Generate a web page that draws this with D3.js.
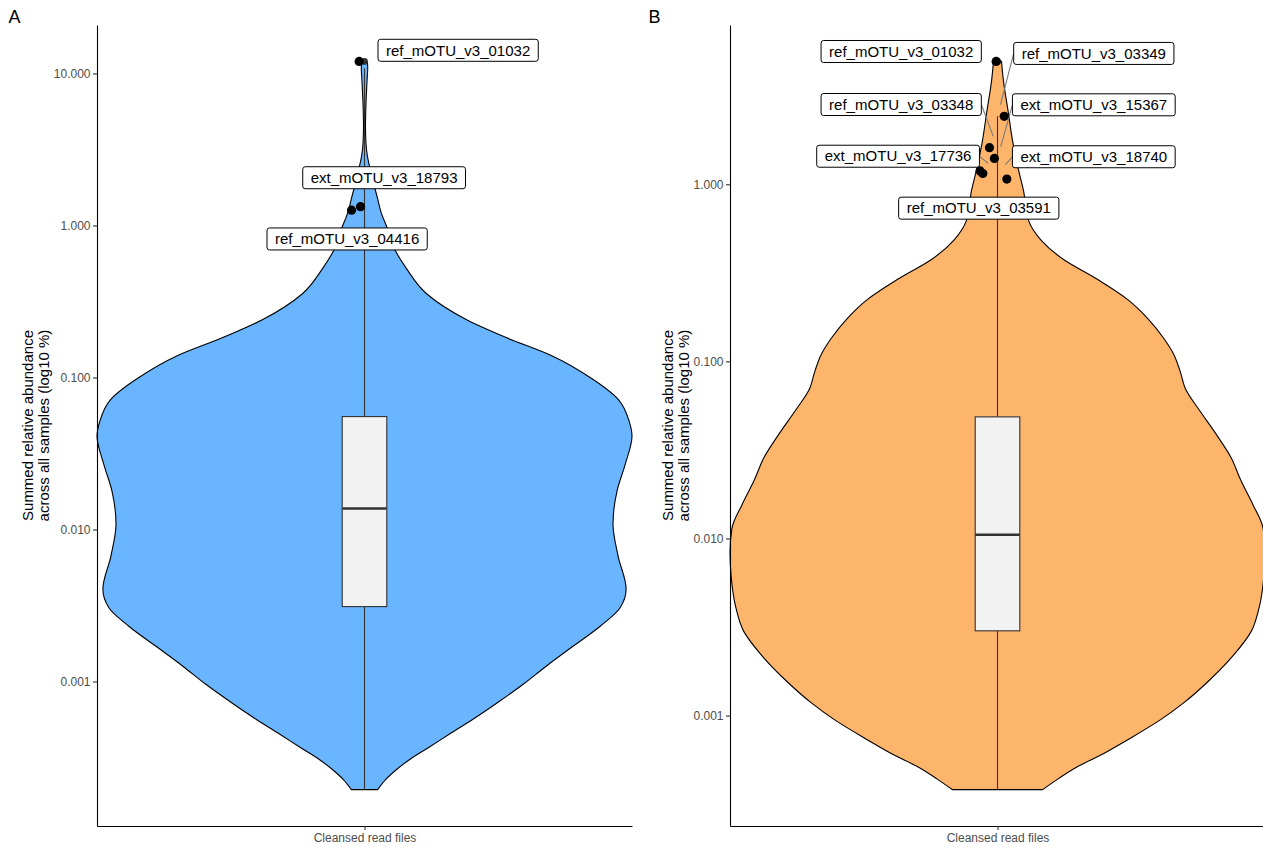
<!DOCTYPE html>
<html>
<head>
<meta charset="utf-8">
<script src="https://cdn.jsdelivr.net/npm/d3@7"></script>
<style>
  body { margin: 0; background: #fff; }
  svg { display: block; font-family: "Liberation Sans", Arial, Helvetica, sans-serif; }
</style>
</head>
<body>
<svg id="chart" width="1263" height="847"></svg>
<script>
// ---- shared ----
const category = "Cleansed read files";
const yTickValues = [0.001, 0.01, 0.1, 1, 10];
const yTitleLines = ["Summed relative abundance", "across all samples (log10 %)"];

// ---- panel A ----
const extentA = [1.945e-4, 12.0];                               // min, max abundance
const boxStatsA = [1.945e-4, 0.00311, 0.01374, 0.0553, 10.8];   // lower, q1, median, q3, upper
const violinLevelsA = [1.079, 1.033, 0.967, 0.803, 0.651, 0.539, 0.454, 0.388, 0.276, 0.177, 0.098,
  -0.040, -0.139, -0.284, -0.449, -0.620, -0.739, -0.857, -1.002, -1.147, -1.292, -1.384, -1.575,
  -1.747, -1.964, -2.175, -2.392, -2.517, -2.638, -2.783, -2.901, -3.020, -3.138, -3.250, -3.349,
  -3.434, -3.513, -3.579, -3.645, -3.711];
const violinDensityA = [0.011, 0.012, 0.010, 0.0056, 0.0037, 0.0056, 0.011, 0.019, 0.034, 0.049, 0.060,
  0.090, 0.108, 0.157, 0.232, 0.382, 0.532, 0.700, 0.845, 0.950, 0.990, 1.0, 0.974,
  0.944, 0.929, 0.948, 0.978, 0.955, 0.880, 0.768, 0.678, 0.592, 0.498, 0.404, 0.315,
  0.240, 0.169, 0.120, 0.079, 0.049];
const taxaA = ["ref_mOTU_v3_01032", "ext_mOTU_v3_18793", "ref_mOTU_v3_04416"];
const abundanceA = [12.0, 1.33, 1.26];
const jitterA = [-0.012, -0.009, -0.029];
const labelXA = [1.210, 1.044, 0.961];
const labelValueA = [14.2, 2.06, 0.815];

// ---- panel B ----
const extentB = [3.82e-4, 4.94];
const boxStatsB = [3.82e-4, 0.00301, 0.0105, 0.0486, 2.42];
const violinLevelsB = [0.694, 0.587, 0.400, 0.248, 0.078, -0.035, -0.204, -0.312, -0.425, -0.538,
  -0.651, -0.758, -0.871, -0.961, -1.052, -1.159, -1.272, -1.408, -1.543, -1.673, -1.809, -1.944,
  -2.080, -2.210, -2.391, -2.526, -2.656, -2.792, -2.927, -3.023, -3.136, -3.220, -3.288, -3.356,
  -3.418];
const violinDensityB = [0.015, 0.022, 0.041, 0.056, 0.079, 0.097, 0.116, 0.161, 0.247, 0.375,
  0.487, 0.562, 0.622, 0.659, 0.682, 0.704, 0.753, 0.816, 0.873, 0.910, 0.955, 0.993,
  1.0, 0.996, 0.978, 0.948, 0.884, 0.798, 0.697, 0.610, 0.487, 0.390, 0.300, 0.228,
  0.169];
const taxaB = ["ref_mOTU_v3_01032", "ref_mOTU_v3_03349", "ref_mOTU_v3_03348", "ext_mOTU_v3_15367",
  "ext_mOTU_v3_17736", "ext_mOTU_v3_18740", "ref_mOTU_v3_03591"];
const abundanceB = [4.94, 2.42, 1.61, 1.40, 1.19, 1.15, 1.07];
const jitterB = [-0.003, 0.015, -0.018, -0.007, -0.039, -0.033, 0.021];
const labelXB = [0.784, 1.216, 0.784, 1.216, 0.777, 1.216, 0.958];
const labelValueB = [5.62, 5.48, 2.82, 2.81, 1.44, 1.43, 0.733];

const svg = d3.select("#chart");

function violinPoints(levels, density) {
  return levels.map((l, i) => ({ level: l, w: density[i] }));
}

function drawPanel(cfg) {
  const { tag, tagX, left, right, top, bottom, titleX, fill } = cfg;

  // y: log scale over the data range, expanded by 5% in log space
  const lo = Math.log10(cfg.extent[0]), hi = Math.log10(cfg.extent[1]);
  const pad = (hi - lo) * 0.05;
  const y = d3.scaleLog().domain([10 ** (lo - pad), 10 ** (hi + pad)]).range([bottom, top]);
  // x: one discrete category centred at 1; offsets used for widths and jitter
  const x = d3.scaleLinear().domain([0.4, 1.6]).range([left, right]);

  const g = svg.append("g");
  const gViolin = g.append("g"), gBox = g.append("g"), gSeg = g.append("g"),
        gPts = g.append("g"), gLab = g.append("g");

  // violin
  const area = d3.area()
    .y(d => y(10 ** d.level))
    .x0(d => x(1 - d.w * 0.6))
    .x1(d => x(1 + d.w * 0.6))
    .curve(d3.curveMonotoneY);
  gViolin.append("path")
    .attr("d", area(violinPoints(cfg.levels, cfg.density)))
    .attr("fill", fill)
    .attr("stroke", "#000")
    .attr("stroke-width", 1.1)
    .attr("stroke-linejoin", "round");

  // boxplot
  const [wLo, q1, med, q3, wHi] = cfg.box;
  const bw = 0.05;
  gBox.append("line").attr("x1", x(1)).attr("x2", x(1)).attr("y1", y(wLo)).attr("y2", y(q1))
    .attr("stroke", "#333").attr("stroke-width", 1.1);
  gBox.append("line").attr("x1", x(1)).attr("x2", x(1)).attr("y1", y(q3)).attr("y2", y(wHi))
    .attr("stroke", "#333").attr("stroke-width", 1.1);
  gBox.append("rect")
    .attr("x", x(1 - bw)).attr("width", x(1 + bw) - x(1 - bw))
    .attr("y", y(q3)).attr("height", y(q1) - y(q3))
    .attr("fill", "#F2F2F3").attr("stroke", "#333").attr("stroke-width", 1.1);
  gBox.append("line").attr("x1", x(1 - bw)).attr("x2", x(1 + bw)).attr("y1", y(med)).attr("y2", y(med))
    .attr("stroke", "#333").attr("stroke-width", 2.4);
  // outliers beyond the upper whisker
  cfg.values.filter(v => v > wHi).forEach(v => {
    gBox.append("circle").attr("cx", x(1)).attr("cy", y(v)).attr("r", 3.4).attr("fill", "#333");
  });

  // labelled taxa (jittered)
  gPts.selectAll("circle").data(cfg.values).join("circle")
    .attr("cx", (d, i) => x(1 + cfg.jitter[i]))
    .attr("cy", d => y(d))
    .attr("r", 4.6)
    .attr("fill", "#000");

  // repelled labels with connector segments
  const boxH = 22, padX = 8, pointPad = 12, minSeg = 8;
  cfg.taxa.forEach((name, i) => {
    const cx = x(cfg.labelX[i]), cy = y(cfg.labelValue[i]);
    const lg = gLab.append("g");
    const rect = lg.append("rect");
    const t = lg.append("text")
      .attr("x", cx).attr("y", cy).attr("dy", "0.35em")
      .attr("text-anchor", "middle")
      .attr("font-size", 15).attr("fill", "#000")
      .text(name);
    const tw = t.node().getComputedTextLength();
    const bx0 = cx - tw / 2 - padX, bx1 = cx + tw / 2 + padX;
    const by0 = cy - boxH / 2, by1 = cy + boxH / 2;
    rect.attr("x", bx0).attr("y", by0).attr("width", bx1 - bx0).attr("height", boxH)
      .attr("rx", 2.5).attr("ry", 2.5)
      .attr("fill", "#fff").attr("stroke", "#000").attr("stroke-width", 1);

    // segment toward the un-jittered data position
    const px = x(1), py = y(cfg.values[i]);
    let sx, sy;
    if (px >= bx0 && px <= bx1) { sx = px; sy = py < by0 ? by0 : by1; }
    else { sx = px < bx0 ? bx0 : bx1; sy = cy; }
    const dx = px - sx, dy = py - sy, len = Math.hypot(dx, dy);
    if (len - pointPad > minSeg) {
      const k = (len - pointPad) / len;
      gSeg.append("line")
        .attr("x1", sx).attr("y1", sy).attr("x2", sx + dx * k).attr("y2", sy + dy * k)
        .attr("stroke", "#7a7a7a").attr("stroke-width", 1.1);
    }
  });

  // axes
  const [d0, d1] = y.domain();
  const yAxis = d3.axisLeft(y)
    .tickValues(yTickValues.filter(v => v >= d0 && v <= d1))
    .tickFormat(d3.format(".3f"))
    .tickSize(4).tickPadding(2.5).tickSizeOuter(0);
  const ya = svg.append("g").attr("transform", `translate(${left},0)`).call(yAxis);
  const xAxis = d3.axisBottom(x).tickValues([1]).tickFormat(() => category)
    .tickSize(4).tickPadding(3.5).tickSizeOuter(0);
  const xa = svg.append("g").attr("transform", `translate(0,${bottom})`).call(xAxis);
  [ya, xa].forEach(a => {
    a.select(".domain").attr("stroke", "#000").attr("stroke-width", 1.1);
    a.selectAll(".tick line").attr("stroke", "#333").attr("stroke-width", 1.1);
    a.selectAll(".tick text").attr("fill", "#4D4D4D").attr("font-size", 12)
      .attr("font-family", "Liberation Sans, Arial, sans-serif");
  });

  // y title
  const tt = svg.append("text")
    .attr("transform", `translate(0,${(top + bottom) / 2}) rotate(-90)`)
    .attr("text-anchor", "middle").attr("font-size", 15).attr("fill", "#000");
  yTitleLines.forEach((s, i) => tt.append("tspan").attr("x", 0).attr("y", titleX + i * 16.8).text(s));

  // panel tag
  svg.append("text").attr("x", tagX).attr("y", 23).attr("font-size", 18).attr("fill", "#000").text(tag);
}

drawPanel({
  tag: "A", tagX: 8.5, left: 97, right: 632, top: 25, bottom: 826, titleX: 32.5, fill: "#6AB5FF",
  extent: extentA, box: boxStatsA, levels: violinLevelsA, density: violinDensityA,
  taxa: taxaA, values: abundanceA, jitter: jitterA, labelX: labelXA, labelValue: labelValueA
});
drawPanel({
  tag: "B", tagX: 648.5, left: 730, right: 1265, top: 25, bottom: 826, titleX: 672.5, fill: "#FDB46B",
  extent: extentB, box: boxStatsB, levels: violinLevelsB, density: violinDensityB,
  taxa: taxaB, values: abundanceB, jitter: jitterB, labelX: labelXB, labelValue: labelValueB
});
</script>
</body>
</html>
